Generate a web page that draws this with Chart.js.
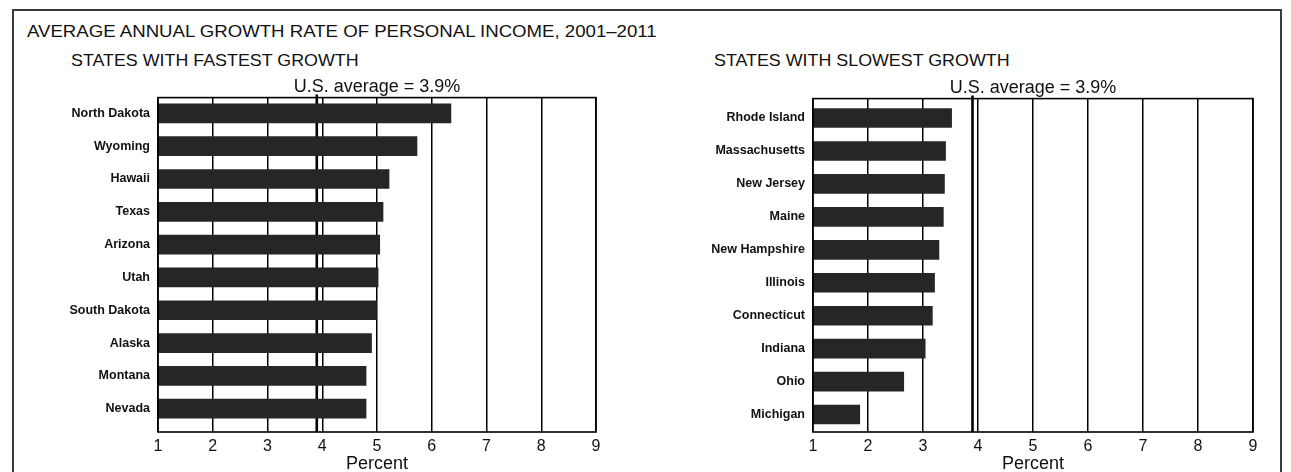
<!DOCTYPE html>
<html><head><meta charset="utf-8">
<script src="https://cdn.jsdelivr.net/npm/chart.js@4/dist/chart.umd.min.js"></script>
<style>
html,body{margin:0;padding:0;background:#fff;}
body{width:1291px;height:472px;position:relative;overflow:hidden;font-family:"Liberation Sans",Arial,sans-serif;color:#111;}
#frame{position:absolute;left:12px;top:9px;width:1266px;height:500px;border:2px solid #3a3a3a;border-bottom:none;}
.t{position:absolute;white-space:nowrap;line-height:1;transform-origin:0 0;}
#title{left:27px;top:23px;font-size:17px;transform:scaleX(1.095);}
.sub{font-size:17px;transform:scaleX(1.05);}
#subL{left:71px;top:52px;}
#subR{left:714px;top:52px;}
.box{position:absolute;}
#boxL{left:20px;top:70px;width:620px;height:402px;}
#boxR{left:660px;top:70px;width:620px;height:402px;}
</style></head>
<body>
<div id="frame"></div>
<div class="t" id="title">AVERAGE ANNUAL GROWTH RATE OF PERSONAL INCOME, 2001–2011</div>
<div class="t sub" id="subL">STATES WITH FASTEST GROWTH</div>
<div class="t sub" id="subR">STATES WITH SLOWEST GROWTH</div>
<div class="box" id="boxL"><canvas id="cL"></canvas></div>
<div class="box" id="boxR"><canvas id="cR"></canvas></div>
<script>
const fastStates = ["North Dakota","Wyoming","Hawaii","Texas","Arizona","Utah","South Dakota","Alaska","Montana","Nevada"];
const fastValues = [6.35, 5.73, 5.22, 5.11, 5.05, 5.02, 4.99, 4.9, 4.8, 4.8];
const slowStates = ["Rhode Island","Massachusetts","New Jersey","Maine","New Hampshire","Illinois","Connecticut","Indiana","Ohio","Michigan"];
const slowValues = [3.52, 3.41, 3.39, 3.37, 3.29, 3.21, 3.17, 3.04, 2.65, 1.85];
const usAverage = 3.9;
const xTicks = [1,2,3,4,5,6,7,8,9];
const avgLabel = "U.S. average = 3.9%";
const xTitle = "Percent";

const REG = '"Liberation Sans",Arial,sans-serif';

const frameAndAvg = {
  id: 'frameAndAvg',
  beforeDatasetsDraw(chart) {
    const {ctx, chartArea: a, scales: {x}} = chart;
    const px = x.getPixelForValue(usAverage);
    ctx.save();
    ctx.strokeStyle = '#000';
    ctx.lineWidth = 2.6;
    ctx.beginPath(); ctx.moveTo(px, a.top - 3); ctx.lineTo(px, a.bottom); ctx.stroke();
    ctx.restore();
  },
  afterDraw(chart) {
    const {ctx, chartArea: a} = chart;
    ctx.save();
    ctx.strokeStyle = '#000';
    ctx.lineWidth = 1.6;
    ctx.strokeRect(a.left, a.top, a.right - a.left, a.bottom - a.top);
    ctx.restore();
  }
};

function makeChart(id, states, values, yWidth, padTop, padRight, startV, rangeV) {
  return new Chart(document.getElementById(id), {
    type: 'bar',
    data: {
      labels: states,
      datasets: [{ data: values, backgroundColor: '#262626', barThickness: 19 }]
    },
    options: {
      indexAxis: 'y',
      responsive: true,
      maintainAspectRatio: false,
      animation: false,
      devicePixelRatio: 1,
      layout: { padding: { top: padTop, right: padRight, left: 0, bottom: 0 } },
      plugins: {
        legend: { display: false },
        tooltip: { enabled: false },
        title: {
          display: true, text: avgLabel, color: '#111', fullSize: false,
          font: { family: REG, size: 18, weight: 'normal' },
          padding: { top: 0, bottom: 0 }
        }
      },
      scales: {
        x: {
          type: 'linear', min: 1, max: 9,
          afterBuildTicks: s => { s.ticks = xTicks.map(v => ({ value: v })); },
          afterFit: s => { s.height = 40; },
          grid: { color: '#000', lineWidth: 1.5, drawTicks: false },
          border: { display: false },
          ticks: { color: '#111', padding: 5, font: { family: REG, size: 16 } },
          title: { display: true, text: xTitle, color: '#111', padding: { top: 0, bottom: 0 },
                   font: { family: REG, size: 18, lineHeight: 0.9 } }
        },
        y: {
          type: 'category',
          afterBuildTicks: s => { s._startValue = startV; s._valueRange = rangeV; },
          afterFit: s => { s.width = yWidth; },
          grid: { display: false, drawTicks: false },
          border: { display: false },
          ticks: { color: '#111', padding: 8, autoSkip: false, font: { family: REG, size: 12.5, weight: 'bold' } }
        }
      }
    },
    plugins: [frameAndAvg]
  });
}

makeChart('cL', fastStates, fastValues, 138, 6, 44, -0.48, 10.19);
makeChart('cR', slowStates, slowValues, 153, 7, 27, -0.59, 10.12);
</script>
</body></html>
